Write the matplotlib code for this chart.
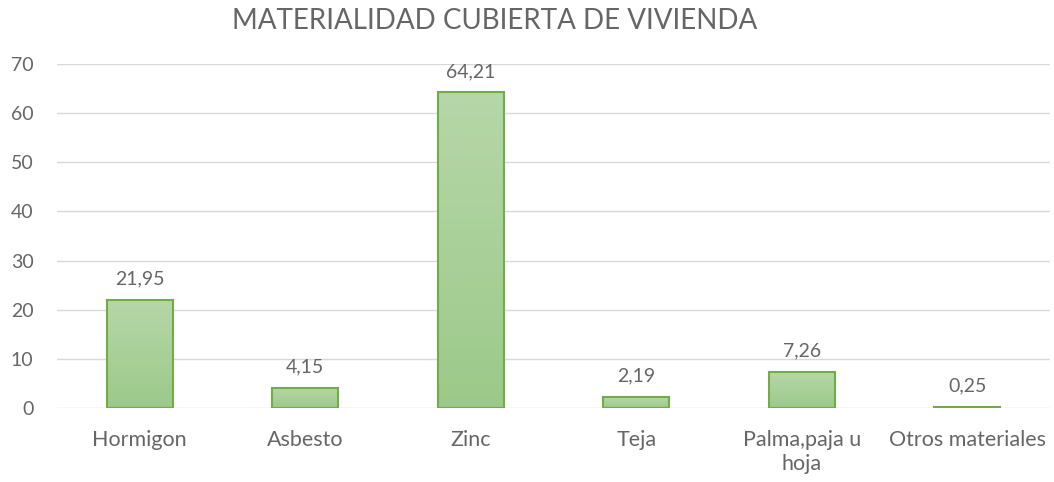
import matplotlib
matplotlib.use("Agg")
import matplotlib.pyplot as plt
import numpy as np
from matplotlib.colors import LinearSegmentedColormap

categories = ["Hormigon", "Asbesto", "Zinc", "Teja", "Palma,paja u\nhoja", "Otros materiales"]
values = [21.95, 4.15, 64.21, 2.19, 7.26, 0.25]
labels = ["21,95", "4,15", "64,21", "2,19", "7,26", "0,25"]

plt.rcParams['font.family'] = ['Lato', 'DejaVu Sans']
txt = "#666666"

fig = plt.figure(figsize=(10.54, 4.82), dpi=100)
ax = fig.add_axes([57/1054, 1-408/482, (1050-57)/1054, (408-64)/482])

x = np.arange(len(categories))
width = 0.4
bars = ax.bar(x, values, width=width, facecolor="none", edgecolor="#70ad47", linewidth=1.5, zorder=3)

cmap = LinearSegmentedColormap.from_list("g", ["#9cc98a", "#b6d7a8"])
grad = np.linspace(0, 1, 256).reshape(-1, 1)
for b in bars:
    x0, y0 = b.get_x(), b.get_y()
    w, h = b.get_width(), b.get_height()
    im = ax.imshow(grad, cmap=cmap, aspect="auto", origin="lower",
                   extent=[x0, x0 + w, y0, y0 + h], zorder=2)
    im.set_clip_path(b)

for xi, v, lab in zip(x, values, labels):
    ax.annotate(lab, (xi, v), xytext=(0, 9), textcoords="offset points",
                ha="center", va="bottom", fontsize=14, color=txt)

ax.set_xlim(-0.5, len(categories) - 0.5)
ax.set_ylim(0, 70)
ax.set_yticks(range(0, 71, 10))
ax.yaxis.grid(True, color="#d9d9d9", linewidth=1)
ax.set_axisbelow(True)
for s in ax.spines.values():
    s.set_visible(False)
ax.tick_params(length=0, labelcolor=txt)
ax.tick_params(axis="y", pad=17, labelsize=14)
ax.tick_params(axis="x", pad=16, labelsize=15.5)
ax.set_xticks(x)
ax.set_xticklabels(categories, linespacing=1.25)

fig.text(495/1054, 1-21/482, "MATERIALIDAD CUBIERTA DE VIVIENDA", ha="center", va="center",
         fontsize=20, color=txt)

fig.savefig("out.png", dpi=100)
